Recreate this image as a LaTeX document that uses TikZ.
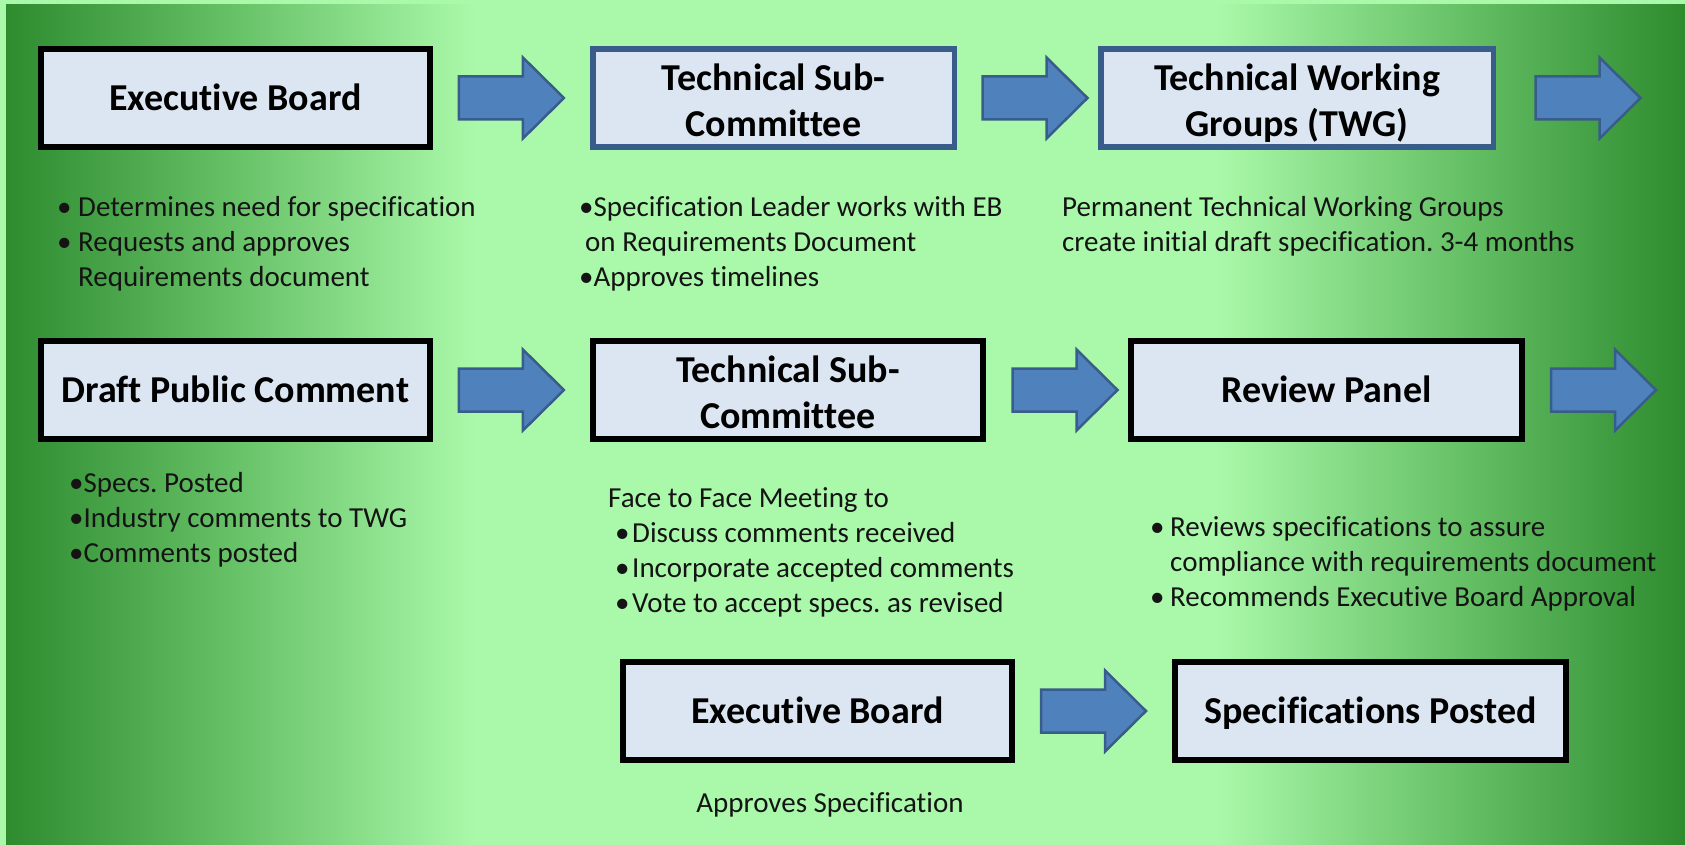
\documentclass[tikz,border=0pt]{standalone}
\usepackage{fontspec}
\setmainfont{Carlito}[Ligatures=NoCommon]
\usetikzlibrary{calc}
\definecolor{bgl}{RGB}{170,249,170}
\definecolor{bgm}{RGB}{105,195,105}
\definecolor{bgd}{RGB}{46,139,46}
\definecolor{boxfill}{RGB}{220,230,242}
\definecolor{boxblue}{RGB}{56,93,138}
\definecolor{arrfill}{RGB}{79,129,189}
\definecolor{txt}{RGB}{20,20,20}
\pgfdeclarehorizontalshading{bgh}{100bp}{color(0bp)=(bgd); color(25bp)=(bgd); color(32bp)=(bgm); color(39bp)=(bgl); color(61bp)=(bgl); color(68bp)=(bgm); color(75bp)=(bgd); color(100bp)=(bgd)}
\newcommand{\bul}[1]{\makebox[#1][l]{•}}
\frenchspacing
\tikzset{
  titlebox/.style={draw=black, line width=6pt, fill=boxfill, minimum width=389pt, minimum height=98pt,
    inner sep=0pt, align=center, font=\fontsize{38}{46}\selectfont\bfseries},
  bluebox/.style={titlebox, draw=boxblue, line width=5.5pt},
  oneline/.style={text height=30pt, text depth=5.5pt},
  twoline/.style={text height=78pt, text depth=1.5pt},
  bodytext/.style={inner sep=0pt, anchor=base west, align=left, text=txt, font=\fontsize{29}{35}\selectfont},
  pics/barrow/.style={code={
    \draw[fill=arrfill, draw=boxblue, line width=2.5pt, line join=miter]
      (-52.5,-21.5) -- (11.5,-21.5) -- (11.5,-40.5) -- (52.5,0) -- (11.5,40.5) -- (11.5,21.5) -- (-52.5,21.5) -- cycle;}}
}
\begin{document}
\begin{tikzpicture}[x=1pt, y=-1pt]
\useasboundingbox (0,0) rectangle (1685,845);
\fill[bgl] (0,0) rectangle (1685,845);
\shade[shading=bgh] (6,5) rectangle (1685,845);

% row 1
\node[titlebox, oneline, minimum width=389pt] (eb1) at (235.3,98) {Executive Board};
\node[bluebox, twoline, minimum width=361.5pt] (tsc1) at (773.5,98) {Technical Sub-\\Committee};
\node[bluebox, twoline, minimum width=392.5pt] (twg) at (1297,98) {Technical Working\\Groups (TWG)};
% row 2
\node[titlebox, oneline] (dpc) at (235.3,390) {Draft Public Comment};
\node[titlebox, twoline, minimum width=390pt] (tsc2) at (788,390) {Technical Sub-\\Committee};
\node[titlebox, oneline, minimum width=391pt] (rp) at (1326.5,390) {Review Panel};
% row 3
\node[titlebox, oneline] (eb3) at (817.5,711) {Executive Board};
\node[titlebox, oneline, minimum width=391pt] (sp) at (1370.5,711) {Specifications Posted};

% arrows
\pic at ($(eb1.east)!0.5!(tsc1.west)$) {barrow};
\pic at ($(tsc1.east)!0.5!(twg.west)+(7.5,0)$) {barrow};
\coordinate (a3) at (1588,98);
\pic at (a3) {barrow};
\pic at ($(dpc.east)!0.5!(tsc2.west)$) {barrow};
\pic at ($(tsc2.east)!0.5!(rp.west)+(8,0)$) {barrow};
\coordinate (a6) at (1603.5,390);
\pic at (a6) {barrow};
\pic at ($(eb3.east)!0.5!(sp.west)$) {barrow};

% texts (anchor = baseline of the last line)
\node[bodytext] (t1) at (57,286) {\bul{21pt}Determines need for specification\\\bul{21pt}Requests and approves\\\hspace*{21pt}Requirements document};
\node[bodytext] (t2) at (579,286) {•Specification Leader works with EB\\\hspace*{6pt}on Requirements Document\\•Approves timelines};
\node[bodytext] (t3) at (1062,251) {Permanent Technical Working Groups\\create initial draft specification. 3-4 months};
\node[bodytext] (t4) at (69,562) {•Specs. Posted\\•Industry comments to TWG\\•Comments posted};
\node[bodytext] (t5) at (608,612) {Face to Face Meeting to\\\hspace*{7pt}\bul{17pt}Discuss comments received\\\hspace*{7pt}\bul{17pt}Incorporate accepted comments\\\hspace*{7pt}\bul{17pt}Vote to accept specs. as revised};
\node[bodytext] (t6) at (1150,606.5) {\bul{20pt}Reviews specifications to assure\\\hspace*{20pt}compliance with requirements document\\\bul{20pt}Recommends Executive Board Approval};
\node[bodytext, anchor=base] (t7) at (830,812) {Approves Specification};
\end{tikzpicture}
\end{document}
